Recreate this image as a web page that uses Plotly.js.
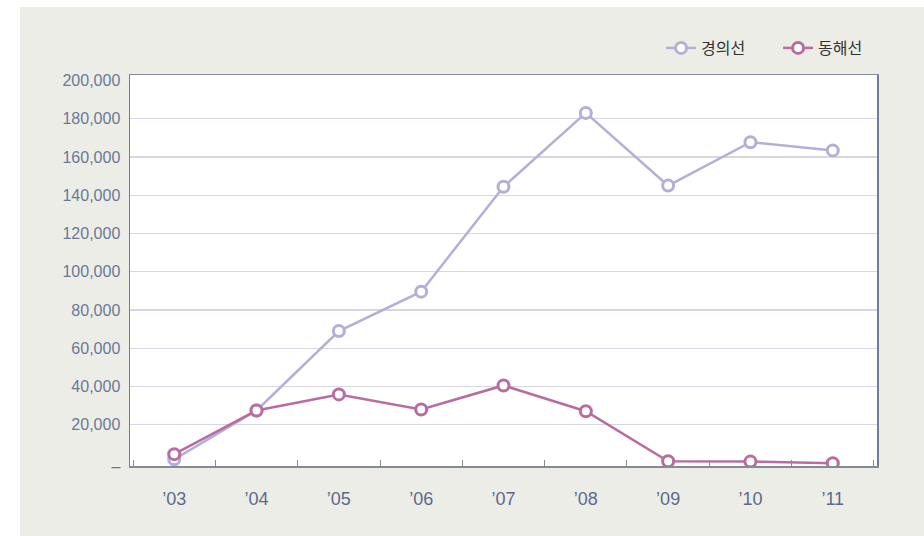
<!DOCTYPE html>
<html>
<head>
<meta charset="utf-8">
<script src="https://cdn.plot.ly/plotly-3.0.1.min.js"></script>
<style>
  html, body { margin: 0; padding: 0; background: #ffffff; }
  #chart { position: absolute; left: 20px; top: 7px; width: 904px; height: 529px; }
</style>
</head>
<body>
<div id="chart"></div>
<script>
// Categories (years)
const years = ['\u201903', '\u201904', '\u201905', '\u201906', '\u201907', '\u201908', '\u201909', '\u201910', '\u201911'];
// Series values
const gyeongui = [2000, 27500, 69000, 89600, 144400, 183000, 145000, 167700, 163400];
const donghae  = [4700, 27500, 35900, 28000, 40600, 27100, 1000, 800, 0];
// Y tick labels
const yTickVals = [-1500, 20000, 40000, 60000, 80000, 100000, 120000, 140000, 160000, 180000, 200000];
const yTickText = ['\u2013', '20,000', '40,000', '60,000', '80,000', '100,000', '120,000', '140,000', '160,000', '180,000', '200,000'];
const gridVals  = [20000, 40000, 60000, 80000, 100000, 120000, 140000, 160000, 180000];
const yRange = [-1500, 202800];

const lavender = '#b4afd8';
const mauve = '#ba6c9e';

const traces = [
  {
    x: years, y: gyeongui, name: '경의선', type: 'scatter', mode: 'lines+markers',
    line: {color: lavender, width: 2.5},
    marker: {symbol: 'circle', size: 11, color: '#ffffff', line: {color: lavender, width: 3}}
  },
  {
    x: years, y: donghae, name: '동해선', type: 'scatter', mode: 'lines+markers',
    line: {color: mauve, width: 2.5},
    marker: {symbol: 'circle', size: 11, color: '#ffffff', line: {color: mauve, width: 3}}
  },
  { x: [], y: [], yaxis: 'y2', showlegend: false, hoverinfo: 'skip' }
];

const layout = {
  width: 904, height: 529,
  margin: {l: 110, r: 47, t: 68, b: 70},
  paper_bgcolor: '#edede8',
  plot_bgcolor: '#ffffff',
  font: {family: 'Liberation Sans, Arial, sans-serif', color: '#6b7896'},
  showlegend: true,
  legend: {
    orientation: 'h',
    xref: 'container', yref: 'container',
    x: 0.968, xanchor: 'right',
    y: 0.9225, yanchor: 'middle',
    bgcolor: 'rgba(0,0,0,0)',
    font: {family: 'Noto Sans CJK KR, sans-serif', size: 16, color: '#333333'},
    itemwidth: 30,
    entrywidth: 72, entrywidthmode: 'pixels',
    traceorder: 'normal'
  },
  xaxis: {
    type: 'category',
    tickson: 'boundaries',
    ticks: 'inside', ticklen: 6, tickwidth: 1, tickcolor: '#888c96',
    showgrid: false, zeroline: false,
    showline: true, linecolor: '#848a98', linewidth: 1.5, mirror: true,
    tickfont: {size: 18, color: '#5b6a8c'},
    ticklabelstandoff: 16,
    fixedrange: true
  },
  yaxis: {
    range: yRange,
    tickmode: 'array', tickvals: yTickVals, ticktext: yTickText,
    ticks: '', showgrid: false, zeroline: false,
    showline: true, linecolor: '#6f7ea0', linewidth: 1.5, mirror: true,
    tickfont: {size: 16, color: '#6b7896'},
    ticklabelstandoff: 5,
    fixedrange: true
  },
  yaxis2: {
    overlaying: 'y', range: yRange,
    tickmode: 'array', tickvals: gridVals,
    showticklabels: false, ticks: '',
    showgrid: true, gridcolor: '#d9d6e4', gridwidth: 1.2,
    zeroline: false, showline: false,
    fixedrange: true
  }
};

Plotly.newPlot('chart', traces, layout, {displayModeBar: false, staticPlot: true});
</script>
</body>
</html>
